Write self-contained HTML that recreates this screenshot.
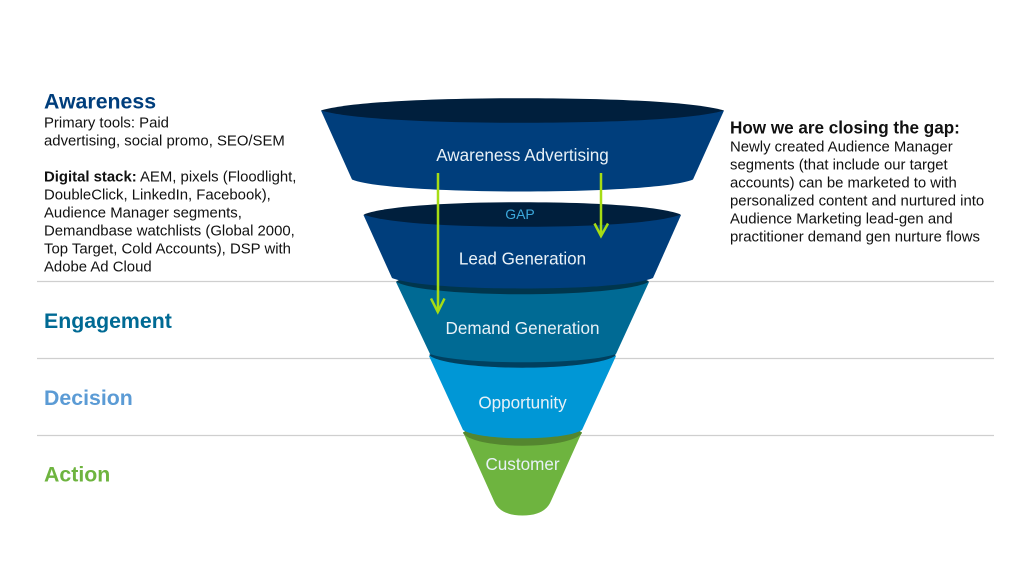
<!DOCTYPE html>
<html>
<head>
<meta charset="utf-8">
<style>
html,body{margin:0;padding:0;background:#fff;width:1024px;height:576px;overflow:hidden}
svg{display:block}
text{font-family:"Liberation Sans",sans-serif}
.b{font-size:14.9px;fill:#111}
.h{font-size:21.3px;font-weight:bold}
.w{font-size:17.1px;fill:#e8f1f7;text-anchor:middle}
</style>
</head>
<body>
<svg width="1024" height="576" viewBox="0 0 1024 576" xmlns="http://www.w3.org/2000/svg">
<rect width="1024" height="576" fill="#fff"/>
<g stroke="#cfcfcf" stroke-width="1.3">
<line x1="37" y1="281.500" x2="994" y2="281.500"/>
<line x1="37" y1="358.500" x2="994" y2="358.500"/>
<line x1="37" y1="435.500" x2="994" y2="435.500"/>
</g>

<!-- Customer -->
<path d="M463 432 L494 501 Q500 515.500 522.500 515.500 Q545 515.500 551 501 L582 432 Z" fill="#6eb43f"/>
<path d="M463 433 C470 425 495 422 522.500 422 C550 422 575 425 582 433 C577 441 550 445.700 522.500 445.700 C495 445.700 468 441 463 433 Z" fill="#54862f"/>
<!-- Opportunity -->
<path d="M429 356 L463 430 C480 441 565 441 582 430 L616 356 Z" fill="#0097d6"/>
<path d="M429 355 C440 347 480 344 522.500 344 C565 344 605 347 616 355 C608 363 565 367.700 522.500 367.700 C480 367.700 437 363 429 355 Z" fill="#00405f"/>
<!-- Demand -->
<path d="M396 282 L430 354 C460 365 585 365 616 354 L649 282 Z" fill="#006a94"/>
<path d="M396 281.500 C410 273 470 270 522.500 270 C575 270 635 273 649 281.500 C637 290 575 294.300 522.500 294.300 C470 294.300 408 290 396 281.500 Z" fill="#00364d"/>
<!-- Lead -->
<path d="M363.500 215 L392 278 C425 292 620 292 653 278 L681 215 Z" fill="#003e7c"/>
<path d="M363.500 214.500 C386 206 450 202.200 522.250 202.200 C594 202.200 658 206 681 214.500 C658 223 594 226.800 522.250 226.800 C450 226.800 386 223 363.500 214.500 Z" fill="#001f3d"/>
<!-- Awareness -->
<path d="M321 110.500 L352 179.500 C390 195.500 655 195.500 693 179.500 L724 110.500 Z" fill="#003e7c"/>
<path d="M321 110.500 C350 102 430 98.200 522.500 98.200 C615 98.200 695 102 724 110.500 C695 119 615 122.800 522.500 122.800 C430 122.800 350 119 321 110.500 Z" fill="#001f3d"/>

<!-- Arrows -->
<g fill="none" stroke="#a6dc14" stroke-width="2.500">
<line x1="438" y1="173" x2="438" y2="312"/>
<polyline points="431,298.500 437.800,312 444.500,298.500"/>
<line x1="601" y1="173" x2="601" y2="236"/>
<polyline points="594.500,223.500 601,236 608,223.500"/>
</g>

<!-- Funnel labels -->
<text class="w" x="522.500" y="161">Awareness Advertising</text>
<text x="520" y="219" text-anchor="middle" font-size="14" fill="#3ca9dc">GAP</text>
<text class="w" x="522.500" y="264.500">Lead Generation</text>
<text class="w" x="522.500" y="334">Demand Generation</text>
<text class="w" x="522.500" y="408.500">Opportunity</text>
<text class="w" x="522.500" y="470">Customer</text>

<!-- Left -->
<text class="h" x="44" y="108.500" fill="#003e7c">Awareness</text>
<text class="b" x="44" y="127.500">Primary tools: Paid</text>
<text class="b" x="44" y="145.500">advertising, social promo, SEO/SEM</text>
<text class="b" x="44" y="181.500"><tspan font-weight="bold">Digital stack:</tspan> AEM, pixels (Floodlight,</text>
<text class="b" x="44" y="199.500">DoubleClick, LinkedIn, Facebook),</text>
<text class="b" x="44" y="217.500">Audience Manager segments,</text>
<text class="b" x="44" y="235.500">Demandbase watchlists (Global 2000,</text>
<text class="b" x="44" y="253.500">Top Target, Cold Accounts), DSP with</text>
<text class="b" x="44" y="271.500">Adobe Ad Cloud</text>

<text class="h" x="44" y="328" fill="#006a94">Engagement</text>
<text class="h" x="44" y="405" fill="#5b9bd5">Decision</text>
<text class="h" x="44" y="481.500" fill="#6eb43f">Action</text>

<!-- Right -->
<text x="730" y="133.500" font-size="17.100" font-weight="bold" fill="#111">How we are closing the gap:</text>
<text class="b" x="730" y="151.500">Newly created Audience Manager</text>
<text class="b" x="730" y="169.500">segments (that include our target</text>
<text class="b" x="730" y="187.500">accounts) can be marketed to with</text>
<text class="b" x="730" y="205.500">personalized content and nurtured into</text>
<text class="b" x="730" y="223.500">Audience Marketing lead-gen and</text>
<text class="b" x="730" y="241.500">practitioner demand gen nurture flows</text>
</svg>
</body>
</html>
